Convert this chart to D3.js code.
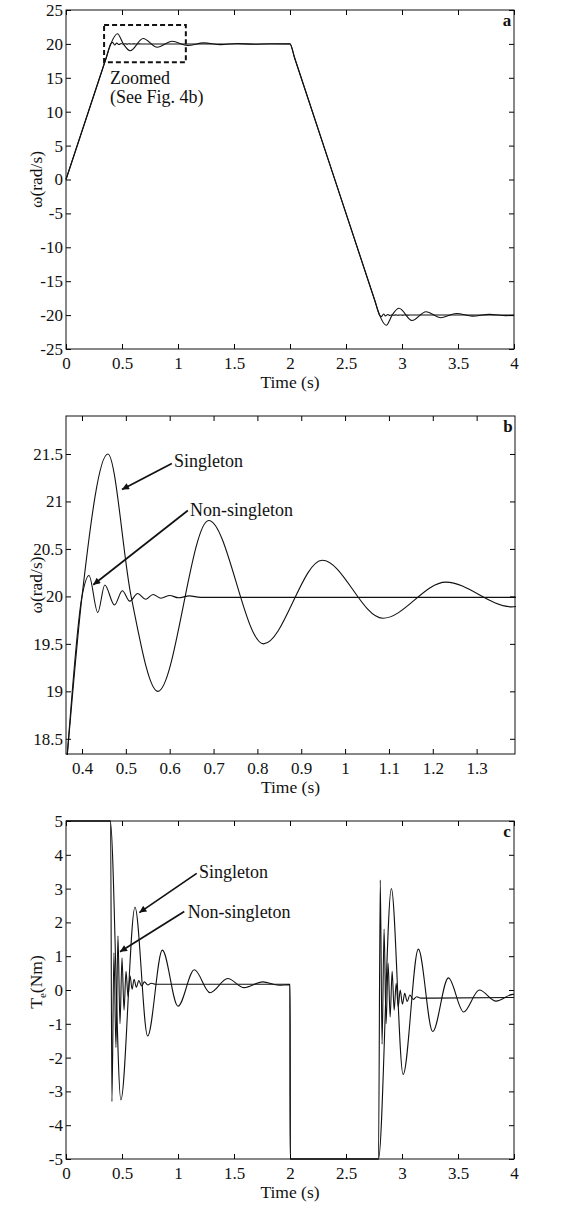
<!DOCTYPE html>
<html>
<head>
<meta charset="utf-8">
<script src="https://cdn.jsdelivr.net/npm/d3@7"></script>
<style>
	body { margin: 0; background: #fff; }
	svg { display: block; }
	text { font-family: "Liberation Serif", "Times New Roman", serif; fill: #111; }
	.tick text { font-size: 17px; }
</style>
</head>
<body>
<div id="chart"></div>
<script>
// ---- data (time in s, speed in rad/s, torque in Nm) ----
const singletonSpeed = [
	[0, 0], [0.36, 18], [0.4, 20], [0.459, 21.5], [0.512, 20.0], [0.573, 19.0], [0.689, 20.8],
	[0.814, 19.5], [0.948, 20.38], [1.086, 19.77], [1.23, 20.15], [1.38, 19.89], [1.53, 20.07],
	[1.68, 19.95], [1.83, 20.03], [2.0, 20.0], [2.04, 18], [2.76, -18], [2.8, -20], [2.859, -21.5],
	[2.912, -20], [2.973, -19.0], [3.089, -20.8], [3.214, -19.5], [3.348, -20.38], [3.486, -19.77],
	[3.63, -20.15], [3.78, -19.89], [3.93, -20.07], [4.0, -20.02]
];
const nonSingletonSpeed = [
	[0, 0], [0.36, 18], [0.4, 20], [0.416, 20.22], [0.436, 19.83], [0.452, 20.12], [0.474, 19.91],
	[0.492, 20.06], [0.509, 19.95], [0.527, 20.03], [0.545, 19.97], [0.562, 20.02], [0.58, 19.98],
	[0.6, 20.01], [0.62, 19.985], [0.645, 20.005], [0.67, 19.99], [2.0, 19.99], [2.04, 18],
	[2.76, -18], [2.8, -20], [2.816, -20.22], [2.836, -19.83], [2.852, -20.12], [2.874, -19.91],
	[2.892, -20.06], [2.909, -19.95], [2.927, -20.03], [2.945, -19.97], [2.962, -20.02], [2.98, -19.98],
	[3.0, -20.01], [3.02, -19.985], [3.045, -20.005], [3.07, -19.99], [4.0, -19.99]
];
const singletonTorque = [
	[0, 5], [0.395, 5], [0.49, -3.25], [0.616, 2.45], [0.729, -1.36], [0.86, 1.18], [1.0, -0.48],
	[1.146, 0.6], [1.286, -0.08], [1.444, 0.34], [1.59, 0.07], [1.756, 0.24], [1.9, 0.14], [2.0, 0.16],
	[2.002, -5], [2.79, -5], [2.905, 3.0], [3.01, -2.5], [3.146, 1.21], [3.274, -1.23], [3.414, 0.36],
	[3.55, -0.65], [3.69, 0.0], [3.84, -0.33], [3.99, -0.13], [4.0, -0.13]
];
const nonSingletonTorque = [
	[0, 5], [0.398, 5], [0.41, -3.3], [0.428, 1.1], [0.446, -1.7], [0.464, 1.6], [0.482, -1.0],
	[0.5, 0.95], [0.518, -0.6], [0.536, 0.55], [0.554, -0.2], [0.572, 0.42], [0.59, 0.02],
	[0.608, 0.32], [0.628, 0.08], [0.65, 0.28], [0.675, 0.12], [0.7, 0.24], [0.73, 0.15], [0.76, 0.2],
	[0.8, 0.17], [2.0, 0.17], [2.002, -5], [2.79, -5], [2.806, 3.25], [2.822, -1.6], [2.84, 1.8],
	[2.858, -1.0], [2.876, 0.8], [2.894, -0.8], [2.912, 0.55], [2.93, -0.6], [2.948, 0.2], [2.966, -0.5],
	[2.984, 0.0], [3.004, -0.42], [3.024, -0.1], [3.046, -0.34], [3.07, -0.15], [3.1, -0.28],
	[3.13, -0.2], [3.17, -0.24], [4.0, -0.22]
];

// ticks
const timeTicks = [0, 0.5, 1, 1.5, 2, 2.5, 3, 3.5, 4];
const speedTicks = [-25, -20, -15, -10, -5, 0, 5, 10, 15, 20, 25];
const zoomTimeTicks = [0.4, 0.5, 0.6, 0.7, 0.8, 0.9, 1, 1.1, 1.2, 1.3];
const zoomSpeedTicks = [18.5, 19, 19.5, 20, 20.5, 21, 21.5];
const torqueTicks = [-5, -4, -3, -2, -1, 0, 1, 2, 3, 4, 5];

// zoomed region marked in panel a
const zoomBoxTime = [0.34, 1.07];
const zoomBoxSpeed = [17.3, 22.8];

const svg = d3.select("#chart")
	.append("svg")
		.attr("width", 571)
		.attr("height", 1205);

const defs = svg.append("defs");
defs.append("marker")
		.attr("id", "arrow")
		.attr("viewBox", "0 0 10 10")
		.attr("refX", 10)
		.attr("refY", 5)
		.attr("markerUnits", "userSpaceOnUse")
		.attr("markerWidth", 10)
		.attr("markerHeight", 7)
		.attr("orient", "auto")
	.append("path")
		.attr("d", "M0,0L10,5L0,10z")
		.attr("fill", "#111");

/** one MATLAB-like panel: box, inward ticks on all sides, clipped lines */
function makePanel(p) {
	const width = p.right - p.left;
	const height = p.bottom - p.top;
	const x = d3.scaleLinear().domain(p.xDomain).range([0, width]);
	const y = d3.scaleLinear().domain(p.yDomain).range([height, 0]);
	const g = svg.append("g").attr("transform", `translate(${p.left},${p.top})`);

	defs.append("clipPath")
			.attr("id", "clip-" + p.id)
		.append("rect")
			.attr("x", -1)
			.attr("y", -1)
			.attr("width", width + 2)
			.attr("height", height + 2);

	const line = d3.line()
		.x(d => x(d[0]))
		.y(d => y(d[1]))
		.curve(d3.curveMonotoneX);

	g.append("g")
			.attr("clip-path", `url(#clip-${p.id})`)
		.selectAll("path")
		.data(p.series)
		.join("path")
			.attr("d", d => line(d))
			.attr("fill", "none")
			.attr("stroke", "#111")
			.attr("stroke-width", 1.1);

	g.append("g")
		.attr("transform", `translate(0,${height})`)
		.call(d3.axisBottom(x).tickValues(p.xTicks).tickFormat(d => d).tickSize(-5).tickSizeOuter(0).tickPadding(8))
		.call(a => a.select(".domain").remove());
	g.append("g")
		.call(d3.axisTop(x).tickValues(p.xTicks).tickFormat("").tickSize(-5).tickSizeOuter(0))
		.call(a => a.select(".domain").remove());
	g.append("g")
		.call(d3.axisLeft(y).tickValues(p.yTicks).tickFormat(d => d).tickSize(-5).tickSizeOuter(0).tickPadding(3))
		.call(a => a.select(".domain").remove());
	g.append("g")
		.attr("transform", `translate(${width},0)`)
		.call(d3.axisRight(y).tickValues(p.yTicks).tickFormat("").tickSize(-5).tickSizeOuter(0))
		.call(a => a.select(".domain").remove());

	g.append("rect")
		.attr("width", width)
		.attr("height", height)
		.attr("fill", "none")
		.attr("stroke", "#111")
		.attr("stroke-width", 1);

	// labels
	g.append("text")
		.attr("x", width / 2)
		.attr("y", height + 39)
		.attr("text-anchor", "middle")
		.attr("font-size", "17.5px")
		.text("Time (s)");

	const yl = g.append("text")
		.attr("transform", `translate(${42 - p.left},${height / 2 + (p.yLabelShift || 0)}) rotate(-90)`)
		.attr("text-anchor", "middle")
		.attr("font-size", "17.5px");
	p.yLabel(yl);

	g.append("text")
		.attr("x", width - 7)
		.attr("y", 16)
		.attr("text-anchor", "middle")
		.attr("font-size", "17px")
		.attr("font-weight", "bold")
		.text(p.letter);

	return {g, x, y};
}

function addNote(panel, t, v, lines) {
	panel.g.append("text")
		.attr("x", panel.x(t))
		.attr("y", panel.y(v))
		.attr("font-size", "18px")
		.text(lines);
}

function addArrow(panel, from, to) {
	panel.g.append("line")
		.attr("x1", panel.x(from[0]))
		.attr("y1", panel.y(from[1]))
		.attr("x2", panel.x(to[0]))
		.attr("y2", panel.y(to[1]))
		.attr("stroke", "#111")
		.attr("stroke-width", 1.7)
		.attr("marker-end", "url(#arrow)");
}

// ---- panel a: full speed response ----
const panelA = makePanel({
	id: "a", left: 66, right: 514, top: 10, bottom: 349,
	xDomain: [0, 4], yDomain: [-25, 25],
	xTicks: timeTicks, yTicks: speedTicks,
	series: [singletonSpeed, nonSingletonSpeed],
	letter: "a",
	yLabel: t => t.text("ω(rad/s)")
});
panelA.g.append("rect")
	.attr("x", panelA.x(zoomBoxTime[0]))
	.attr("y", panelA.y(zoomBoxSpeed[1]))
	.attr("width", panelA.x(zoomBoxTime[1]) - panelA.x(zoomBoxTime[0]))
	.attr("height", panelA.y(zoomBoxSpeed[0]) - panelA.y(zoomBoxSpeed[1]))
	.attr("fill", "none")
	.attr("stroke", "#111")
	.attr("stroke-width", 2)
	.attr("stroke-dasharray", "5,3");
addNote(panelA, 0.393, 14.1, "Zoomed");
addNote(panelA, 0.393, 11.3, "(See Fig. 4b)");

// ---- panel b: zoom of the first overshoot ----
const panelB = makePanel({
	id: "b", left: 66, right: 515, top: 416, bottom: 754,
	xDomain: [0.3635, 1.3875], yDomain: [18.34, 21.9],
	xTicks: zoomTimeTicks, yTicks: zoomSpeedTicks,
	series: [singletonSpeed, nonSingletonSpeed],
	letter: "b",
	yLabel: t => t.text("ω(rad/s)")
});
addNote(panelB, 0.6096, 21.36, "Singleton");
addArrow(panelB, [0.6048, 21.4], [0.4911, 21.126]);
addNote(panelB, 0.6465, 20.85, "Non-singleton");
addArrow(panelB, [0.6414, 20.905], [0.4257, 20.123]);

// ---- panel c: electromagnetic torque ----
const panelC = makePanel({
	id: "c", left: 66, right: 514, top: 821, bottom: 1159,
	xDomain: [0, 4], yDomain: [-5, 5],
	xTicks: timeTicks, yTicks: torqueTicks,
	series: [singletonTorque, nonSingletonTorque],
	letter: "c",
	yLabelShift: -8,
	yLabel: t => {
		t.append("tspan").text("T");
		t.append("tspan").attr("font-size", "11px").attr("dy", 4).text("e");
		t.append("tspan").attr("dy", -4).text("(Nm)");
	}
});
addNote(panelC, 1.1875, 3.31, "Singleton");
addArrow(panelC, [1.167, 3.45], [0.655, 2.29]);
addNote(panelC, 1.086, 2.13, "Non-singleton");
addArrow(panelC, [1.056, 2.32], [0.482, 1.13]);
</script>
</body>
</html>
